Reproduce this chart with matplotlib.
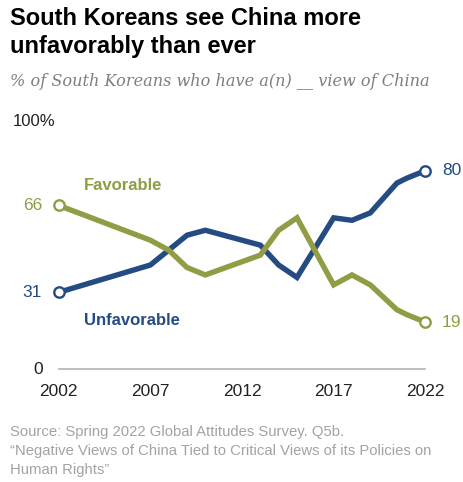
import matplotlib
matplotlib.use('Agg')
import matplotlib.pyplot as plt

# Dados (anos de campo; 2020 foi no verão)
anos = [2002, 2007, 2008, 2009, 2010, 2013, 2014, 2015, 2017, 2018, 2019, 2020.45, 2021, 2022]
favoravel = [66, 52, 48, 41, 38, 46, 56, 61, 34, 38, 34, 24, 22, 19]
desfavoravel = [31, 42, 48, 54, 56, 50, 42, 37, 61, 60, 63, 75, 77, 80]
anos_ticks = [2002, 2007, 2012, 2017, 2022]

azul = '#244b82'
verde = '#919c45'

W, H = 463, 482
fig = plt.figure(figsize=(W / 100, H / 100), dpi=100)
ax = fig.add_axes([58.7 / W, 1 - 369.3 / H, 366.6 / W, 248.3 / H])
ax.set_xlim(2002, 2022)
ax.set_ylim(0, 100)
ax.axis('off')

# linha de base
ax.plot([2002, 2022], [0, 0], color='#b3b3b3', lw=1.2, clip_on=False)

for ys, cor in [(desfavoravel, azul), (favoravel, verde)]:
    ax.plot(anos, ys, color=cor, lw=3.9, solid_joinstyle='miter', clip_on=False, zorder=3)
    ax.plot([anos[0], anos[-1]], [ys[0], ys[-1]], ls='none', marker='o', ms=7.5,
            mfc='white', mec=cor, mew=1.7, clip_on=False, zorder=4)
    ax.annotate(str(ys[0]), (anos[0], ys[0]), xytext=(-12, 0), textcoords='offset points',
                ha='right', va='center', color=cor, fontsize=12.5, family='Liberation Sans')
    ax.annotate(str(ys[-1]), (anos[-1], ys[-1]), xytext=(12, 0), textcoords='offset points',
                ha='left', va='center', color=cor, fontsize=12.5, family='Liberation Sans')

ax.text(2003.4, 74, 'Favorable', color=verde, fontsize=12, fontweight='bold',
        family='Liberation Sans', va='center')
ax.text(2003.4, 19.5, 'Unfavorable', color=azul, fontsize=12, fontweight='bold',
        family='Liberation Sans', va='center')

# eixos
for a in anos_ticks:
    ax.text(a, -9, str(a), ha='center', va='center', fontsize=12.5, color='#222222',
            family='Liberation Sans')
ax.text(-45.7 / 18.33 + 2002, 100, '100%', ha='left', va='center', fontsize=12,
        color='#222222', family='Liberation Sans')
ax.text(2002 - 21 / 18.33, 0, '0', ha='center', va='center', fontsize=12.5,
        color='#222222', family='Liberation Sans')

# titulo e notas
fig.text(10 / W, 1 - 25 / H, 'South Koreans see China more', fontsize=17, fontweight='bold',
         family='Liberation Sans', va='baseline', color='#000000')
fig.text(10 / W, 1 - 53 / H, 'unfavorably than ever', fontsize=17, fontweight='bold',
         family='Liberation Sans', va='baseline', color='#000000')
fig.text(10 / W, 1 - 86.5 / H, '% of South Koreans who have a(n) __ view of China', fontsize=11.6,
         style='italic', family='DejaVu Serif', va='baseline', color='#7f7f7f')
fontes = ['Source: Spring 2022 Global Attitudes Survey. Q5b.',
          '\u201cNegative Views of China Tied to Critical Views of its Policies on',
          'Human Rights\u201d']
for i, linha in enumerate(fontes):
    fig.text(10 / W, 1 - (436 + 19 * i) / H, linha, fontsize=10.7, family='Liberation Sans',
             va='baseline', color='#a3a3a3')

fig.savefig('out.png', dpi=100)
